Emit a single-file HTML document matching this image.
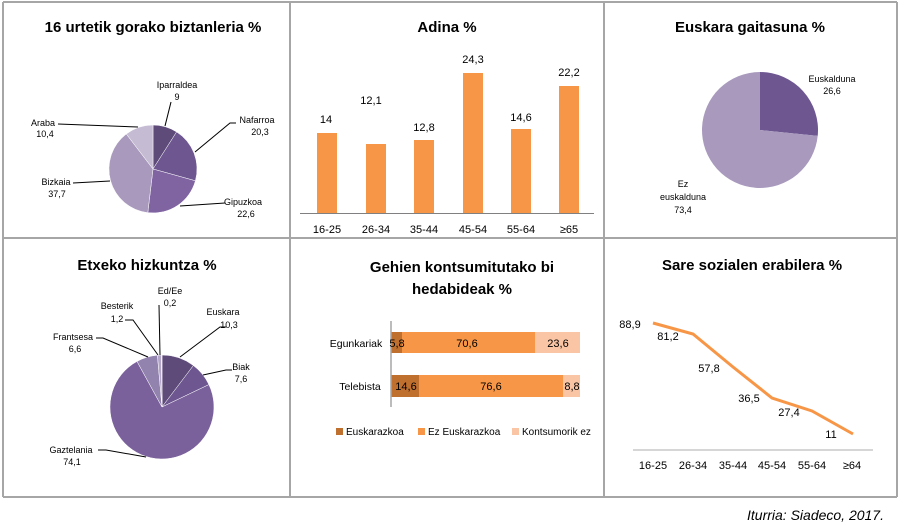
<!DOCTYPE html>
<html><head><meta charset="utf-8"><style>
html,body{margin:0;padding:0;background:#fff}
svg{display:block;font-family:"Liberation Sans",sans-serif}
.t{font-weight:bold;font-size:15px;fill:#000;text-anchor:middle}
.s{font-size:9px;fill:#000;text-anchor:middle}
.m{font-size:11px;fill:#000;text-anchor:middle}
</style></head><body>
<svg width="899" height="527" viewBox="0 0 899 527">
<g stroke="#a6a6a6" stroke-width="2" fill="none">
<line x1="3" y1="2" x2="897" y2="2"/><line x1="3" y1="238" x2="897" y2="238"/><line x1="3" y1="497" x2="897" y2="497"/>
<line x1="3" y1="2" x2="3" y2="497"/><line x1="290" y1="2" x2="290" y2="497"/><line x1="604" y1="2" x2="604" y2="497"/><line x1="897" y1="2" x2="897" y2="497"/>
</g>
<!-- Panel 1 -->
<text class="t" x="153" y="32">16 urtetik gorako biztanleria %</text>
<g stroke="#fff" stroke-width="0.5">
<path d="M153,169 L153,125 A44,44 0 0 1 176.6,131.9 Z" fill="#5f4b7a"/>
<path d="M153,169 L176.6,131.9 A44,44 0 0 1 195.4,180.8 Z" fill="#6e5791"/>
<path d="M153,169 L195.4,180.8 A44,44 0 0 1 147.8,212.7 Z" fill="#8064a2"/>
<path d="M153,169 L147.8,212.7 A44,44 0 0 1 126.3,134 Z" fill="#a899bd"/>
<path d="M153,169 L126.3,134 A44,44 0 0 1 153,125 Z" fill="#c5bcd4"/>
</g>
<g stroke="#000" stroke-width="1" fill="none">
<polyline points="171,102 165,126"/><polyline points="236,123 230,123 195,152"/>
<polyline points="225,203 180,206"/><polyline points="73,183 110,181"/><polyline points="58,124 138,127"/>
</g>
<text class="s" x="177" y="88">Iparraldea</text><text class="s" x="177" y="100">9</text>
<text class="s" x="257" y="123">Nafarroa</text><text class="s" x="260" y="135">20,3</text>
<text class="s" x="243" y="205">Gipuzkoa</text><text class="s" x="246" y="217">22,6</text>
<text class="s" x="56" y="185">Bizkaia</text><text class="s" x="57" y="197">37,7</text>
<text class="s" x="43" y="126">Araba</text><text class="s" x="45" y="137">10,4</text>
<!-- Panel 2 -->
<text class="t" x="447" y="32">Adina %</text>
<g fill="#f79646">
<rect x="317" y="133" width="20" height="80"/><rect x="366" y="144" width="20" height="69"/>
<rect x="414" y="140" width="20" height="73"/><rect x="463" y="73" width="20" height="140"/>
<rect x="511" y="129" width="20" height="84"/><rect x="559" y="86" width="20" height="127"/>
</g>
<line x1="300" y1="213.5" x2="594" y2="213.5" stroke="#808080" stroke-width="1"/>
<g class="m">
<text class="m" x="326" y="123">14</text><text class="m" x="371" y="104">12,1</text>
<text class="m" x="424" y="131">12,8</text><text class="m" x="473" y="63">24,3</text>
<text class="m" x="521" y="121">14,6</text><text class="m" x="569" y="76">22,2</text>
<text class="m" x="327" y="233">16-25</text><text class="m" x="376" y="233">26-34</text>
<text class="m" x="424" y="233">35-44</text><text class="m" x="473" y="233">45-54</text>
<text class="m" x="521" y="233">55-64</text><text class="m" x="569" y="233">≥65</text>
</g>
<!-- Panel 3 -->
<text class="t" x="750" y="32">Euskara gaitasuna %</text>
<path d="M760,130 L760,72 A58,58 0 0 1 817.7,135.9 Z" fill="#6e5791"/>
<path d="M760,130 L817.7,135.9 A58,58 0 1 1 760,72 Z" fill="#a899bd"/>
<text class="s" x="832" y="82">Euskalduna</text><text class="s" x="832" y="94">26,6</text>
<text class="s" x="683" y="187">Ez</text><text class="s" x="683" y="200">euskalduna</text><text class="s" x="683" y="213">73,4</text>
<!-- Panel 4 -->
<text class="t" x="147" y="270">Etxeko hizkuntza %</text>
<g stroke="#fff" stroke-width="0.5">
<path d="M162,407 L162,355 A52,52 0 0 1 193.4,365.5 Z" fill="#5f4b7a"/>
<path d="M162,407 L193.4,365.5 A52,52 0 0 1 208.9,384.6 Z" fill="#6e5791"/>
<path d="M162,407 L208.9,384.6 A52,52 0 1 1 137,361.4 Z" fill="#7b619c"/>
<path d="M162,407 L137,361.4 A52,52 0 0 1 157.4,355.2 Z" fill="#9282ae"/>
<path d="M162,407 L157.4,355.2 A52,52 0 0 1 161.3,355 Z" fill="#b3a6c8"/>
<path d="M162,407 L161.3,355 A52,52 0 0 1 162,355 Z" fill="#ccc"/>
</g>
<g stroke="#000" stroke-width="1" fill="none">
<polyline points="226,327 220,327 180,357"/><polyline points="232,370 226,370 203,375"/>
<polyline points="98,450 106,450 146,457"/><polyline points="96,338 103,338 148,357"/>
<polyline points="125,320 133,320 158,355"/><polyline points="159,305 160,355"/>
</g>
<text class="s" x="223" y="315">Euskara</text><text class="s" x="229" y="328">10,3</text>
<text class="s" x="241" y="370">Biak</text><text class="s" x="241" y="382">7,6</text>
<text class="s" x="71" y="453">Gaztelania</text><text class="s" x="72" y="465">74,1</text>
<text class="s" x="73" y="340">Frantsesa</text><text class="s" x="75" y="352">6,6</text>
<text class="s" x="117" y="309">Besterik</text><text class="s" x="117" y="322">1,2</text>
<text class="s" x="170" y="294">Ed/Ee</text><text class="s" x="170" y="306">0,2</text>
<!-- Panel 5 -->
<text class="t" x="462" y="272">Gehien kontsumitutako bi</text>
<text class="t" x="462" y="294">hedabideak %</text>
<rect x="391" y="332" width="11" height="21" fill="#c0702e"/>
<rect x="402" y="332" width="133" height="21" fill="#f79646"/>
<rect x="535" y="332" width="45" height="21" fill="#f9c5a5"/>
<rect x="391" y="375" width="28" height="22" fill="#c0702e"/>
<rect x="419" y="375" width="144" height="22" fill="#f79646"/>
<rect x="563" y="375" width="17" height="22" fill="#f9c5a5"/>
<line x1="391" y1="321" x2="391" y2="407" stroke="#a6a6a6" stroke-width="1.5"/>
<text class="m" x="397" y="347">5,8</text><text class="m" x="467" y="347">70,6</text><text class="m" x="558" y="347">23,6</text>
<text class="m" x="406" y="390">14,6</text><text class="m" x="491" y="390">76,6</text><text class="m" x="572" y="390">8,8</text>
<text class="m" x="356" y="347" style="font-size:10.5px">Egunkariak</text><text class="m" x="360" y="390" style="font-size:10.5px">Telebista</text>
<rect x="336" y="428" width="7" height="7" fill="#c0702e"/><text x="346" y="435" style="font-size:10px">Euskarazkoa</text>
<rect x="418" y="428" width="7" height="7" fill="#f79646"/><text x="428" y="435" style="font-size:10px">Ez Euskarazkoa</text>
<rect x="512" y="428" width="7" height="7" fill="#f9c5a5"/><text x="522" y="435" style="font-size:10px">Kontsumorik ez</text>
<!-- Panel 6 -->
<text class="t" x="752" y="270">Sare sozialen erabilera %</text>
<polyline points="653,323 693,334 733,367 772,398 812,411 853,434" fill="none" stroke="#f79646" stroke-width="3"/>
<line x1="633" y1="450" x2="873" y2="450" stroke="#c8c8c8" stroke-width="1.5"/>
<text class="m" x="630" y="328">88,9</text><text class="m" x="668" y="340">81,2</text>
<text class="m" x="709" y="372">57,8</text><text class="m" x="749" y="402">36,5</text>
<text class="m" x="789" y="416">27,4</text><text class="m" x="831" y="438">11</text>
<text class="m" x="653" y="469">16-25</text><text class="m" x="693" y="469">26-34</text><text class="m" x="733" y="469">35-44</text>
<text class="m" x="772" y="469">45-54</text><text class="m" x="812" y="469">55-64</text><text class="m" x="852" y="469">≥64</text>
<text x="884" y="520" style="font-size:14px;font-style:italic;text-anchor:end">Iturria: Siadeco, 2017.</text>
</svg>
</body></html>
